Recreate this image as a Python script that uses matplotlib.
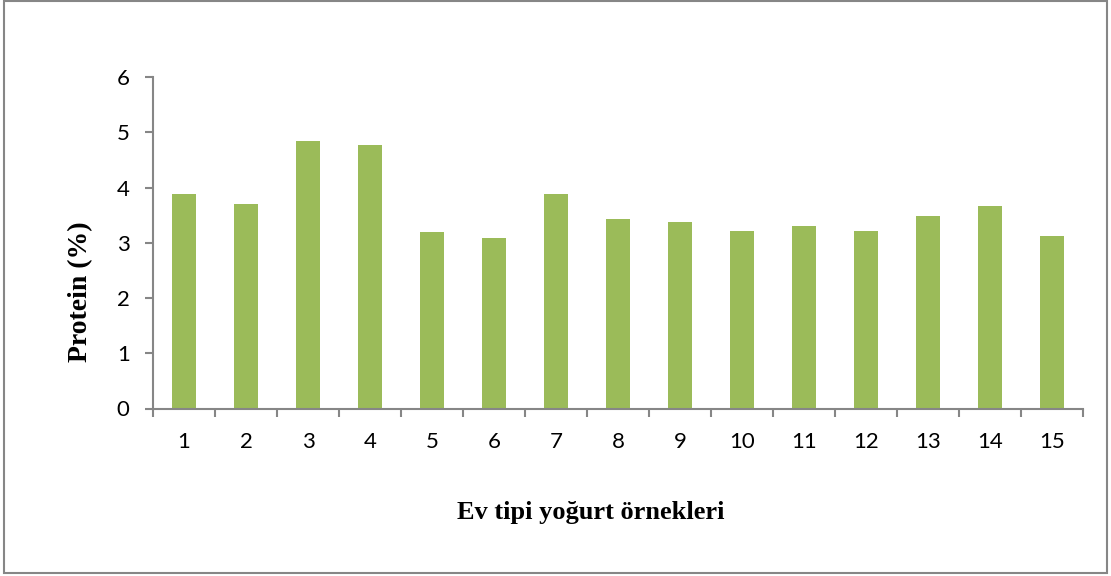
import matplotlib
matplotlib.use('Agg')
import matplotlib.pyplot as plt
from matplotlib.patches import Rectangle

# sample numbers and protein values
samples = [str(i) for i in range(1, 16)]
protein = [3.88, 3.70, 4.85, 4.77, 3.20, 3.08, 3.88, 3.43, 3.38, 3.21, 3.30, 3.21, 3.48, 3.66, 3.12]
y_ticks = [0, 1, 2, 3, 4, 5, 6]

W, H = 1111, 576
fig = plt.figure(figsize=(W / 100, H / 100), dpi=100)
fig.patch.set_facecolor('white')

# outer chart frame
fig.add_artist(Rectangle((4 / W, 3 / H), 1103 / W, 572 / H, transform=fig.transFigure,
                         fill=False, edgecolor='#868686', linewidth=1.5))

ax = fig.add_axes([153 / W, 1 - 408.5 / H, 930 / W, 331.5 / H])
x = list(range(len(samples)))
ax.bar(x, protein, width=0.4, color='#9BBB59', edgecolor='none')

ax.set_xlim(-0.5, len(samples) - 0.5)
ax.set_ylim(0, 6)
ax.set_yticks(y_ticks)
ax.set_yticklabels([str(v) for v in y_ticks], fontsize=16, family='Lato')
ax.set_xticks(x)
ax.set_xticklabels(samples, fontsize=16, family='Lato')
ax.set_xticks([i - 0.5 for i in range(len(samples) + 1)], minor=True)
ax.tick_params(axis='x', which='major', length=0, pad=17)
ax.tick_params(axis='x', which='minor', length=5.8, color='#868686', width=1.5)
ax.tick_params(axis='y', length=5.8, color='#868686', width=1.5, pad=11)

for s in ['top', 'right']:
    ax.spines[s].set_visible(False)
for s in ['left', 'bottom']:
    ax.spines[s].set_color('#868686')
    ax.spines[s].set_linewidth(1.5)

fig.text(81 / W, 1 - 292 / H, 'Protein (%)', fontsize=20, fontweight='bold',
         family='Liberation Serif', rotation=90, ha='center', va='center')
fig.text(591 / W, 1 - 512 / H, 'Ev tipi yoğurt örnekleri', fontsize=19, fontweight='bold',
         family='Liberation Serif', ha='center', va='center')

fig.savefig('out.png', dpi=100, facecolor='white')
